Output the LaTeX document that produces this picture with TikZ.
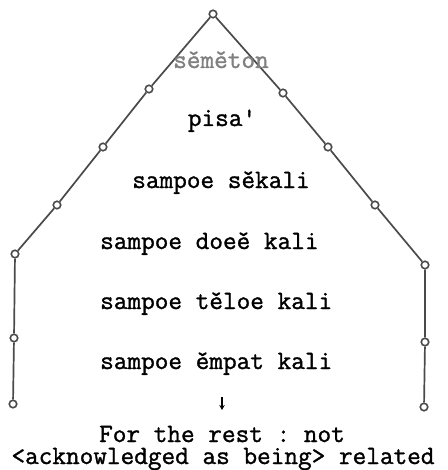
\documentclass[tikz,border=0pt]{standalone}
\usepackage{fontspec}
\setmonofont[FakeBold=1.2]{Latin Modern Mono}
\usetikzlibrary{arrows.meta}
\definecolor{linegray}{HTML}{4A4A4A}
\definecolor{textgray}{HTML}{808080}
\tikzset{
  pt/.style={circle,draw=linegray,line width=1.6pt,inner sep=0pt,minimum size=7.5pt,fill=white},
  branch/.style={draw=linegray,line width=1.7pt},
  lbl/.style={inner sep=0pt,anchor=base,font=\ttfamily\fontsize{26.5}{30}\selectfont},
}
\begin{document}
\begin{tikzpicture}[x=1pt,y=-1pt]
\useasboundingbox (0,0) rectangle (447,470);
% points
\node[pt] (a) at (213,14) {};
\node[pt] (l1) at (149,89) {};
\node[pt] (l2) at (103,147) {};
\node[pt] (l3) at (57,205) {};
\node[pt] (l4) at (15,254) {};
\node[pt] (l5) at (14,338) {};
\node[pt] (l6) at (13,404) {};
\node[pt] (r1) at (283,93) {};
\node[pt] (r2) at (328,147) {};
\node[pt] (r3) at (375,205) {};
\node[pt] (r4) at (425,265) {};
\node[pt] (r5) at (425,342) {};
\node[pt] (r6) at (424,407) {};
\draw[branch] (a) -- (l1) -- (l2) -- (l3) -- (l4) -- (l5) -- (l6);
\draw[branch] (a) -- (r1) -- (r2) -- (r3) -- (r4) -- (r5) -- (r6);
% texts
\node[lbl,text=textgray] (t0) at (221,68) {sěměton};
\node[lbl] (t1) at (222,126) {pisa'};
\node[lbl] (t2) at (221,188) {sampoe sěkali};
\node[lbl,anchor=base west] (t3) at (100,249) {sampoe doeě kali};
\node[lbl,anchor=base west] (t4) at (100,309) {sampoe těloe kali};
\node[lbl,anchor=base west] (t5) at (100,369) {sampoe ěmpat kali};
\coordinate (ar1) at (222,397);
\coordinate (ar2) at (222,410);
\draw[line width=1.3pt,-{Stealth[length=5pt,width=5.5pt]}] (ar1) -- (ar2);
\node[lbl] (t6) at (222,442) {For the rest : not};
\node[lbl] (t7) at (223,464) {<acknowledged as being> related};
\end{tikzpicture}
\end{document}
